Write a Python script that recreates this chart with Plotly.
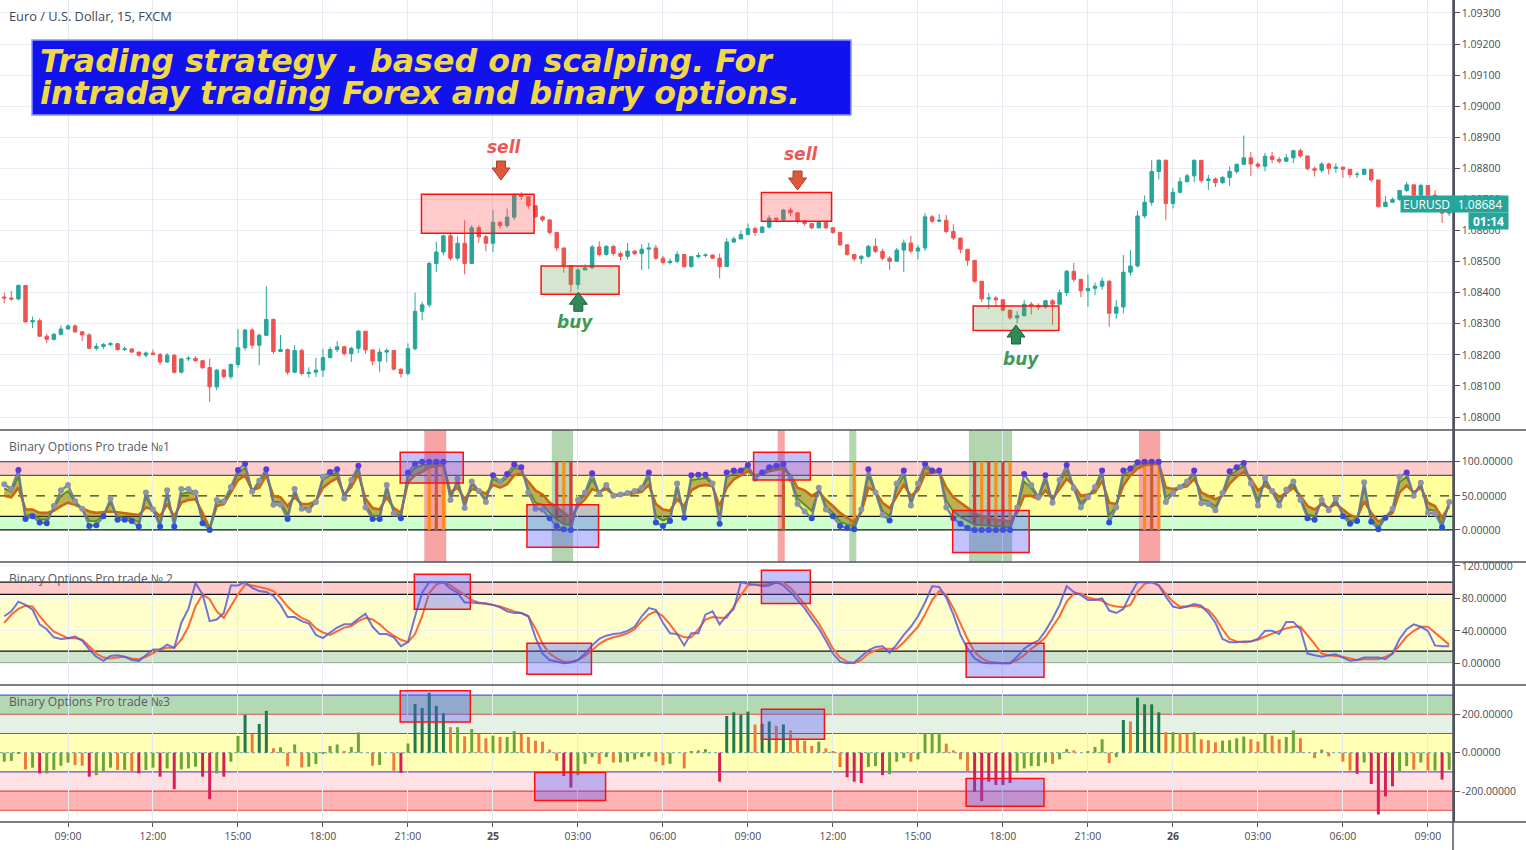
import plotly.graph_objects as go
from plotly.subplots import make_subplots

# ---------------- data (15-min bars, EURUSD) ----------------
first_open = 1.08386
close = [
    1.08383, 1.08380, 1.08423, 1.08306, 1.08310, 1.08260, 1.08250, 1.08266, 1.08283, 1.08293,
    1.08274, 1.08264, 1.08221, 1.08227, 1.08233, 1.08236, 1.08217, 1.08219, 1.08209, 1.08199,
    1.08206, 1.08201, 1.08177, 1.08199, 1.08144, 1.08187, 1.08189, 1.08181, 1.08159, 1.08097,
    1.08151, 1.08130, 1.08169, 1.08223, 1.08280, 1.08231, 1.08263, 1.08314, 1.08211, 1.08217,
    1.08144, 1.08214, 1.08140, 1.08144, 1.08151, 1.08191, 1.08217, 1.08226, 1.08204, 1.08221,
    1.08276, 1.08216, 1.08180, 1.08209, 1.08214, 1.08154, 1.08140, 1.08220, 1.08340, 1.08361,
    1.08494, 1.08531, 1.08583, 1.08511, 1.08559, 1.08494, 1.08609, 1.08580, 1.08559, 1.08627,
    1.08616, 1.08643, 1.08716, 1.08709, 1.08680, 1.08644, 1.08634, 1.08594, 1.08544, 1.08487,
    1.08426, 1.08473, 1.08480, 1.08547, 1.08523, 1.08549, 1.08526, 1.08517, 1.08534, 1.08526,
    1.08540, 1.08544, 1.08511, 1.08497, 1.08501, 1.08523, 1.08484, 1.08516, 1.08520, 1.08521,
    1.08511, 1.08484, 1.08563, 1.08573, 1.08587, 1.08606, 1.08594, 1.08611, 1.08640, 1.08634,
    1.08666, 1.08657, 1.08630, 1.08623, 1.08609, 1.08626, 1.08609, 1.08594, 1.08554, 1.08523,
    1.08509, 1.08517, 1.08549, 1.08533, 1.08511, 1.08501, 1.08537, 1.08560, 1.08534, 1.08544,
    1.08644, 1.08630, 1.08633, 1.08597, 1.08576, 1.08540, 1.08504, 1.08437, 1.08380, 1.08383,
    1.08377, 1.08344, 1.08319, 1.08326, 1.08363, 1.08359, 1.08354, 1.08374, 1.08363, 1.08400,
    1.08469, 1.08443, 1.08406, 1.08414, 1.08421, 1.08437, 1.08334, 1.08354, 1.08466, 1.08486,
    1.08647, 1.08691, 1.08790, 1.08826, 1.08687, 1.08723, 1.08757, 1.08776, 1.08826, 1.08761,
    1.08766, 1.08754, 1.08771, 1.08790, 1.08813, 1.08834, 1.08814, 1.08807, 1.08839, 1.08829,
    1.08823, 1.08834, 1.08857, 1.08840, 1.08799, 1.08794, 1.08814, 1.08800, 1.08804, 1.08797,
    1.08780, 1.08781, 1.08797, 1.08763, 1.08677, 1.08691, 1.08700, 1.08729, 1.08747, 1.08714,
    1.08745, 1.08714, 1.08666, 1.08656, 1.08684,
]
high = [
    1.08400, 1.08406, 1.08427, 1.08423, 1.08323, 1.08317, 1.08268, 1.08270, 1.08295, 1.08298,
    1.08298, 1.08276, 1.08270, 1.08237, 1.08238, 1.08242, 1.08239, 1.08227, 1.08221, 1.08210,
    1.08211, 1.08217, 1.08206, 1.08206, 1.08202, 1.08190, 1.08196, 1.08195, 1.08184, 1.08188,
    1.08155, 1.08154, 1.08172, 1.08283, 1.08284, 1.08286, 1.08269, 1.08421, 1.08317, 1.08264,
    1.08220, 1.08231, 1.08220, 1.08160, 1.08191, 1.08219, 1.08226, 1.08244, 1.08229, 1.08226,
    1.08281, 1.08276, 1.08216, 1.08221, 1.08221, 1.08216, 1.08156, 1.08237, 1.08400, 1.08370,
    1.08500, 1.08564, 1.08587, 1.08594, 1.08581, 1.08633, 1.08617, 1.08617, 1.08586, 1.08666,
    1.08626, 1.08671, 1.08720, 1.08723, 1.08711, 1.08681, 1.08649, 1.08637, 1.08596, 1.08544,
    1.08487, 1.08479, 1.08491, 1.08554, 1.08566, 1.08553, 1.08554, 1.08533, 1.08560, 1.08536,
    1.08556, 1.08561, 1.08554, 1.08519, 1.08509, 1.08534, 1.08523, 1.08519, 1.08530, 1.08527,
    1.08523, 1.08526, 1.08576, 1.08580, 1.08600, 1.08623, 1.08613, 1.08616, 1.08649, 1.08640,
    1.08669, 1.08674, 1.08659, 1.08634, 1.08623, 1.08627, 1.08626, 1.08609, 1.08594, 1.08556,
    1.08524, 1.08521, 1.08554, 1.08574, 1.08541, 1.08517, 1.08544, 1.08571, 1.08583, 1.08553,
    1.08656, 1.08650, 1.08653, 1.08650, 1.08620, 1.08576, 1.08540, 1.08504, 1.08437, 1.08399,
    1.08389, 1.08377, 1.08344, 1.08340, 1.08377, 1.08370, 1.08366, 1.08377, 1.08379, 1.08410,
    1.08474, 1.08496, 1.08443, 1.08459, 1.08433, 1.08449, 1.08440, 1.08376, 1.08521, 1.08537,
    1.08663, 1.08713, 1.08826, 1.08829, 1.08829, 1.08737, 1.08771, 1.08783, 1.08829, 1.08826,
    1.08779, 1.08771, 1.08776, 1.08806, 1.08816, 1.08906, 1.08853, 1.08820, 1.08850, 1.08853,
    1.08837, 1.08846, 1.08860, 1.08863, 1.08840, 1.08806, 1.08820, 1.08819, 1.08816, 1.08806,
    1.08797, 1.08790, 1.08799, 1.08797, 1.08763, 1.08711, 1.08706, 1.08731, 1.08757, 1.08747,
    1.08751, 1.08745, 1.08730, 1.08666, 1.08690,
]
low = [
    1.08366, 1.08374, 1.08375, 1.08304, 1.08286, 1.08258, 1.08238, 1.08246, 1.08262, 1.08283,
    1.08270, 1.08245, 1.08218, 1.08214, 1.08219, 1.08228, 1.08213, 1.08212, 1.08206, 1.08195,
    1.08191, 1.08198, 1.08168, 1.08174, 1.08140, 1.08140, 1.08180, 1.08178, 1.08154, 1.08049,
    1.08086, 1.08124, 1.08121, 1.08159, 1.08214, 1.08220, 1.08167, 1.08260, 1.08203, 1.08209,
    1.08136, 1.08141, 1.08134, 1.08127, 1.08129, 1.08129, 1.08189, 1.08209, 1.08198, 1.08177,
    1.08206, 1.08204, 1.08166, 1.08144, 1.08176, 1.08150, 1.08127, 1.08134, 1.08214, 1.08311,
    1.08353, 1.08466, 1.08520, 1.08504, 1.08504, 1.08459, 1.08492, 1.08561, 1.08533, 1.08531,
    1.08606, 1.08609, 1.08634, 1.08699, 1.08670, 1.08641, 1.08628, 1.08587, 1.08534, 1.08464,
    1.08401, 1.08411, 1.08473, 1.08477, 1.08516, 1.08519, 1.08519, 1.08504, 1.08507, 1.08521,
    1.08473, 1.08476, 1.08506, 1.08491, 1.08490, 1.08494, 1.08480, 1.08481, 1.08510, 1.08514,
    1.08509, 1.08446, 1.08483, 1.08560, 1.08576, 1.08585, 1.08583, 1.08591, 1.08606, 1.08627,
    1.08630, 1.08646, 1.08623, 1.08616, 1.08604, 1.08606, 1.08603, 1.08589, 1.08551, 1.08519,
    1.08501, 1.08493, 1.08511, 1.08527, 1.08504, 1.08473, 1.08501, 1.08466, 1.08526, 1.08507,
    1.08534, 1.08624, 1.08627, 1.08591, 1.08569, 1.08527, 1.08487, 1.08431, 1.08370, 1.08347,
    1.08356, 1.08340, 1.08313, 1.08300, 1.08324, 1.08330, 1.08344, 1.08349, 1.08297, 1.08361,
    1.08390, 1.08434, 1.08386, 1.08354, 1.08392, 1.08410, 1.08291, 1.08316, 1.08334, 1.08456,
    1.08481, 1.08639, 1.08680, 1.08764, 1.08633, 1.08671, 1.08719, 1.08757, 1.08756, 1.08754,
    1.08731, 1.08740, 1.08750, 1.08744, 1.08783, 1.08810, 1.08776, 1.08800, 1.08790, 1.08817,
    1.08816, 1.08820, 1.08817, 1.08834, 1.08794, 1.08774, 1.08786, 1.08780, 1.08786, 1.08770,
    1.08770, 1.08769, 1.08779, 1.08756, 1.08674, 1.08677, 1.08690, 1.08696, 1.08724, 1.08710,
    1.08711, 1.08707, 1.08660, 1.08624, 1.08647,
]
last_price = 1.08684

# indicator 1: fast line (dots), mid line, slow line
osc1_fast = [
    67, 60, 88, 16, 20, 11, 10, 35, 58, 66, 42, 31, 6, 7, 20, 46, 15, 15, 13, 5,
    55, 30, 5, 58, 5, 60, 60, 55, 10, 0, 44, 42, 63, 88, 97, 56, 72, 89, 37, 37,
    16, 60, 31, 29, 41, 78, 85, 89, 46, 73, 94, 33, 16, 16, 66, 24, 17, 84, 97, 100,
    100, 100, 100, 44, 75, 32, 71, 57, 41, 80, 71, 82, 96, 92, 55, 31, 30, 17, 6, 1,
    0, 44, 55, 83, 53, 66, 50, 52, 54, 57, 62, 84, 11, 6, 13, 68, 18, 80, 81, 81,
    68, 9, 84, 87, 87, 95, 75, 84, 92, 94, 97, 75, 38, 27, 17, 62, 30, 20, 6, 3,
    1, 30, 89, 55, 22, 14, 68, 87, 36, 68, 97, 87, 87, 33, 17, 9, 3, 0, 0, 0,
    0, 0, 0, 33, 82, 66, 48, 80, 40, 73, 95, 61, 33, 48, 63, 87, 11, 33, 87, 90,
    99, 100, 100, 100, 41, 54, 63, 71, 87, 39, 38, 29, 54, 86, 92, 98, 68, 36, 76, 57,
    36, 59, 71, 44, 17, 15, 44, 29, 46, 20, 9, 13, 70, 12, 1, 18, 31, 78, 84, 50,
    69, 25, 24, 4, 41,
]
osc1_mid = [
    61, 56, 79, 21, 23, 16, 15, 33, 50, 57, 40, 31, 13, 13, 22, 40, 19, 18, 17, 11,
    48, 30, 10, 51, 10, 53, 55, 52, 15, 1, 41, 41, 60, 83, 91, 57, 69, 86, 41, 41,
    22, 56, 33, 32, 41, 73, 80, 85, 48, 70, 90, 37, 21, 21, 60, 27, 20, 79, 91, 95,
    97, 98, 98, 48, 71, 36, 67, 57, 45, 75, 68, 77, 91, 89, 60, 40, 37, 25, 15, 9,
    6, 41, 52, 75, 54, 64, 51, 52, 53, 56, 60, 78, 20, 14, 18, 60, 24, 73, 75, 76,
    67, 18, 77, 83, 85, 92, 77, 83, 90, 92, 95, 77, 46, 37, 28, 60, 35, 25, 12, 8,
    5, 29, 80, 55, 28, 20, 61, 80, 41, 65, 92, 86, 86, 43, 27, 19, 13, 8, 7, 6,
    5, 5, 4, 30, 71, 61, 47, 73, 42, 69, 88, 62, 39, 49, 60, 82, 21, 35, 80, 87,
    96, 98, 99, 99, 48, 56, 63, 69, 83, 44, 42, 34, 53, 80, 87, 94, 70, 43, 72, 57,
    40, 57, 68, 46, 23, 20, 42, 30, 43, 23, 13, 15, 61, 16, 5, 18, 29, 70, 78, 52,
    67, 30, 28, 9, 39,
]
osc1_slow = [
    50, 48, 62, 30, 30, 25, 25, 28, 35, 40, 37, 32, 27, 25, 26, 27, 26, 25, 24, 22,
    33, 30, 20, 38, 20, 40, 44, 45, 25, 2, 35, 38, 55, 73, 80, 58, 62, 80, 50, 48,
    35, 48, 38, 38, 42, 62, 70, 76, 52, 63, 82, 46, 32, 30, 48, 32, 25, 70, 80, 85,
    92, 94, 95, 55, 62, 45, 60, 58, 53, 66, 62, 67, 80, 83, 70, 58, 52, 40, 33, 26,
    18, 35, 45, 60, 56, 60, 52, 51, 52, 54, 56, 66, 38, 30, 28, 45, 35, 58, 64, 66,
    64, 35, 62, 74, 80, 86, 80, 82, 86, 88, 90, 80, 62, 58, 50, 56, 44, 35, 25, 18,
    12, 26, 62, 56, 40, 32, 48, 66, 50, 58, 82, 84, 85, 62, 48, 40, 32, 25, 20, 17,
    15, 14, 12, 25, 50, 50, 45, 58, 46, 60, 75, 65, 50, 52, 55, 72, 40, 38, 65, 80,
    90, 95, 96, 97, 62, 60, 62, 64, 75, 55, 50, 45, 50, 68, 78, 85, 75, 58, 65, 58,
    48, 54, 62, 50, 35, 30, 38, 32, 38, 30, 22, 18, 42, 25, 12, 18, 25, 55, 65, 55,
    62, 40, 35, 18, 35,
]
# indicator 2: stochastic %K / %D
osc2_k = [
    58, 64, 76, 72, 66, 48, 42, 32, 30, 31, 33, 28, 17, 8, 3, 9, 10, 8, 4, 3,
    10, 17, 17, 23, 19, 50, 67, 99, 85, 52, 54, 62, 96, 96, 100, 93, 89, 88, 83, 72,
    57, 57, 52, 49, 35, 31, 38, 44, 48, 48, 55, 61, 45, 36, 36, 32, 21, 26, 58, 87,
    100, 100, 100, 92, 87, 75, 75, 74, 74, 72, 69, 64, 62, 62, 58, 32, 12, 4, 2, 0,
    1, 4, 12, 22, 30, 34, 36, 37, 40, 45, 58, 68, 66, 50, 37, 36, 22, 37, 37, 60,
    64, 48, 59, 67, 100, 98, 97, 95, 96, 100, 96, 88, 78, 68, 55, 43, 28, 12, 2, 0,
    1, 8, 16, 20, 21, 13, 23, 35, 45, 58, 75, 95, 94, 81, 60, 35, 18, 6, 1, 0,
    0, 0, 0, 8, 18, 24, 28, 40, 55, 72, 95, 88, 84, 78, 78, 80, 65, 62, 67, 85,
    100, 100, 100, 96, 82, 70, 68, 70, 73, 71, 62, 50, 30, 26, 26, 27, 27, 30, 40, 40,
    36, 51, 51, 42, 12, 10, 8, 10, 11, 7, 3, 4, 7, 7, 7, 5, 12, 30, 42, 48,
    45, 40, 22, 21, 21,
]
osc2_d = [
    50, 60, 67, 71, 70, 58, 48, 39, 35, 31, 31, 29, 21, 12, 7, 6, 7, 8, 6, 5,
    8, 12, 17, 19, 19, 29, 45, 70, 85, 79, 64, 56, 70, 85, 97, 96, 94, 92, 89, 81,
    70, 62, 56, 52, 43, 38, 35, 39, 44, 46, 52, 56, 54, 48, 40, 34, 29, 26, 36, 58,
    87, 97, 100, 96, 90, 84, 78, 75, 73, 72, 70, 67, 64, 62, 58, 43, 24, 12, 6, 2,
    2, 4, 9, 16, 24, 29, 32, 34, 37, 42, 52, 60, 64, 58, 48, 36, 32, 32, 42, 54,
    57, 56, 56, 70, 84, 96, 97, 97, 98, 99, 100, 93, 83, 73, 61, 49, 34, 18, 7, 2,
    0, 4, 12, 16, 18, 18, 18, 26, 36, 45, 60, 78, 89, 84, 68, 48, 30, 14, 6, 2,
    1, 0, 0, 4, 10, 18, 24, 32, 45, 58, 76, 86, 86, 81, 79, 77, 72, 70, 69, 72,
    88, 98, 100, 96, 86, 76, 70, 70, 71, 69, 66, 56, 42, 30, 27, 26, 27, 29, 33, 37,
    40, 43, 45, 45, 35, 24, 12, 10, 9, 8, 6, 4, 5, 5, 5, 8, 12, 22, 33, 40,
    45, 45, 38, 30, 23,
]
# indicator 3: histogram
osc3_hist = [
    -47, -43, -5, -87, -78, -108, -108, -90, -68, -52, -64, -68, -125, -117, -99, -78, -90, -90, -99, -108,
    -90, -78, -125, -82, -190, -87, -82, -73, -125, -242, -108, -125, -47, 87, 197, 97, 150, 218, 23, 28,
    -70, 43, -77, -73, -59, -3, 35, 43, 9, 30, 106, 0, -68, -64, 0, -94, -105, 48, 254, 232,
    312, 244, 205, 133, 133, 85, 123, 98, 75, 89, 82, 82, 112, 98, 82, 63, 58, 16, -42, -121,
    -182, -117, -58, -23, -58, -23, -51, -51, -47, -35, -23, -19, -47, -65, -58, 0, -82, 5, 12, 19,
    0, -151, 191, 210, 198, 214, 147, 151, 163, 140, 147, 116, 70, 63, 35, 58, 23, 5, -75, -128,
    -151, -158, -75, -70, -117, -112, -47, -28, -47, -35, 100, 100, 100, 47, 12, -35, -98, -203, -252, -151,
    -168, -168, -158, -105, -82, -70, -70, -51, -58, -35, 19, 12, 0, 6, 30, 70, -54, -23, 170, 163,
    287, 252, 252, 210, 107, 107, 103, 98, 107, 70, 65, 54, 63, 65, 75, 84, 70, 58, 98, 89,
    70, 82, 116, 75, 0, -28, 16, -19, 0, -47, -93, -110, -51, -163, -322, -228, -175, -98, -70, -89,
    -51, -93, -93, -140, -89,
]
sell_signal_bars = [60, 61, 62, 110, 161, 162, 163]
buy_signal_bars = [78, 79, 80, 120, 137, 138, 139, 140, 141, 142]
signal_level = 100

time_tick_bars = [9, 21, 33, 45, 57, 69, 81, 93, 105, 117, 129, 141, 153, 165, 177, 189, 201]
time_tick_labels = ["09:00", "12:00", "15:00", "18:00", "21:00", "<b>25</b>", "03:00", "06:00",
                    "09:00", "12:00", "15:00", "18:00", "21:00", "<b>26</b>", "03:00", "06:00", "09:00"]
price_ticks = [1.080, 1.081, 1.082, 1.083, 1.084, 1.085, 1.086, 1.087, 1.088, 1.089,
               1.090, 1.091, 1.092, 1.093]
osc1_ticks = [0, 50, 100]
osc2_ticks = [0, 40, 80, 120]
osc3_ticks = [-200, 0, 200]

# ---------------- geometry helpers ----------------
PW, PH = 1453.0, 822.0
def px(x):
    return x / PW
def py(y):
    return 1 - y / PH

X_RANGE = [-0.6, 204.54]
PX_PER_BAR = PW / (X_RANGE[1] - X_RANGE[0])
PRICE_PER_PX = 0.013 / 404.0

UP, DN = "#26a69a", "#ef5350"
AXC = "#50535e"
TXT = "#4b4b52"
TICKFONT = dict(family="Open Sans, DejaVu Sans", size=10.5, color=TXT)

bars = list(range(len(close)))
opens = [first_open] + close[:-1]

fig = make_subplots(rows=4, cols=1, shared_xaxes=True, vertical_spacing=0)

# ---- price candles ----
fig.add_trace(go.Candlestick(
    x=bars, open=opens, high=high, low=low, close=close,
    increasing=dict(line=dict(color=UP, width=1), fillcolor=UP),
    decreasing=dict(line=dict(color=DN, width=1), fillcolor=DN),
    whiskerwidth=0, hoverinfo="skip", showlegend=False), row=1, col=1)

# ---- indicator 1 ----
fig.add_trace(go.Bar(
    x=sell_signal_bars, y=[signal_level] * len(sell_signal_bars), width=0.45,
    marker=dict(color=["#ff8c1a" if k % 2 == 0 else "#c9602c" for k in range(len(sell_signal_bars))],
                line=dict(width=0)),
    showlegend=False, hoverinfo="skip"), row=2, col=1)
fig.add_trace(go.Bar(
    x=buy_signal_bars, y=[signal_level] * len(buy_signal_bars), width=0.45,
    marker=dict(color=["#ec3434" if k % 2 == 0 else "#ff8c1a" for k in range(len(buy_signal_bars))],
                line=dict(width=0)),
    showlegend=False, hoverinfo="skip"), row=2, col=1)
fig.add_trace(go.Scatter(
    x=bars, y=osc1_slow, mode="lines", line=dict(color="rgb(204,104,18)", width=2.6),
    showlegend=False, hoverinfo="skip"), row=2, col=1)
fig.add_trace(go.Scatter(
    x=bars, y=osc1_mid, mode="lines", line=dict(color="rgb(96,136,36)", width=1.8),
    fill="tonexty", fillcolor="rgba(110,95,0,0.48)", showlegend=False, hoverinfo="skip"), row=2, col=1)

def dot_color(v):
    if v >= 80:
        return "#5a3ad6"
    if v <= 20:
        return "#2d4fd8"
    return "#8e93ab"

fig.add_trace(go.Scatter(
    x=bars, y=osc1_fast, mode="lines+markers",
    line=dict(color="rgba(104,118,165,0.9)", width=2.2),
    marker=dict(size=6, color=[dot_color(v) for v in osc1_fast], line=dict(width=0)),
    fill="tonexty", fillcolor="rgba(170,250,50,0.6)", showlegend=False, hoverinfo="skip"), row=2, col=1)

# ---- indicator 2 ----
fig.add_trace(go.Scatter(
    x=bars, y=osc2_d, mode="lines", line=dict(color="rgb(255,104,52)", width=2),
    showlegend=False, hoverinfo="skip"), row=3, col=1)
fig.add_trace(go.Scatter(
    x=bars, y=osc2_k, mode="lines", line=dict(color="rgba(92,92,214,0.85)", width=2),
    showlegend=False, hoverinfo="skip"), row=3, col=1)

# ---- indicator 3 ----
def hist_color(v, prev):
    if v > 180:
        return "#1e7a4c"
    if v < -150:
        return "#d61f56"
    if v >= prev:
        return "#1e7a4c" if v > 140 else "#6ea53a"
    return "#d61f56" if v < -100 else "#ee7a3c"

hcols = [hist_color(v, osc3_hist[i - 1] if i > 0 else v) for i, v in enumerate(osc3_hist)]
fig.add_trace(go.Bar(
    x=bars, y=osc3_hist, width=0.42, marker=dict(color=hcols, line=dict(width=0)),
    showlegend=False, hoverinfo="skip"), row=4, col=1)

# ---------------- shapes ----------------
shapes = []
def rect(xref, yref, x0, x1, y0, y1, fill, layer="below", line=None, lw=0):
    shapes.append(dict(type="rect", xref=xref, yref=yref, x0=x0, x1=x1, y0=y0, y1=y1,
                       fillcolor=fill, layer=layer,
                       line=dict(width=lw, color=line if line else "rgba(0,0,0,0)")))
def hline(yref, y, color, width=1.0, dash="solid"):
    shapes.append(dict(type="line", xref="paper", yref=yref, x0=0, x1=1, y0=y, y1=y,
                       layer="below", line=dict(color=color, width=width, dash=dash)))

# panel 1 bands
rect("paper", "y2", 0, 1, 80, 100, "#ffcccc")
rect("paper", "y2", 0, 1, 20, 80, "#ffff9c")
rect("paper", "y2", 0, 1, 0, 20, "#ccffcc")
for x0, x1, c in [(59.3, 62.4, "#f8a4a4"), (77.3, 80.3, "#b3d6b0"), (109.2, 110.2, "#f8a4a4"),
                  (119.3, 120.3, "#b3d6b0"), (136.2, 142.3, "#b3d6b0"), (160.2, 163.2, "#f8a4a4")]:
    rect("x2", "y2 domain", x0, x1, 0, 1, c)
hline("y2", 100, "#4a5a78", 1.2)
hline("y2", 80, "#4a5a78", 1.2)
hline("y2", 50, "#3a3a20", 1.2, "dash")
hline("y2", 20, "#111111", 1.2)
hline("y2", 0, "#111111", 1.2)

# panel 2 bands
rect("paper", "y3", 0, 1, 85, 100, "#ffcccc")
rect("paper", "y3", 0, 1, 15, 85, "#ffffcc")
rect("paper", "y3", 0, 1, 0, 15, "#cce5cc")
for v in (100, 85, 15, 0):
    hline("y3", v, "#111111", 1.2)

# panel 3 bands
rect("paper", "y4", 0, 1, 200, 300, "#b3d9b3")
rect("paper", "y4", 0, 1, 100, 200, "#e6f1e6")
rect("paper", "y4", 0, 1, -100, 100, "#ffffb6")
rect("paper", "y4", 0, 1, -200, -100, "#ffe1e4")
rect("paper", "y4", 0, 1, -300, -200, "#ffb2b2")
hline("y4", 300, "#5a5ad8", 1.1)
hline("y4", 200, "#c8584a", 1.1)
hline("y4", 100, "#5a5ad8", 1.1)
hline("y4", 0, "#86b4b4", 1.2, "dot")
hline("y4", -100, "#5a5ad8", 1.1)
hline("y4", -200, "#e84646", 1.1)
hline("y4", -300, "#e84646", 1.1)

# price zones
SELLF, BUYF, BOXF = "rgba(255,80,80,0.3)", "rgba(100,160,80,0.27)", "rgba(80,80,255,0.35)"
rect("x", "y", 58.9, 74.8, 1.085911, 1.087166, SELLF, "above", "#ff1010", 1.5)
rect("x", "y", 75.8, 86.8, 1.083948, 1.084859, BUYF, "above", "#ff1010", 1.5)
rect("x", "y", 106.9, 116.8, 1.086300, 1.087227, SELLF, "above", "#ff1010", 1.5)
rect("x", "y", 136.8, 148.9, 1.082787, 1.083569, BUYF, "above", "#ff1010", 1.5)
# indicator zones
for x0, x1, y0, y1 in [(55.9, 64.8, 68.8, 114), (73.8, 83.9, -25.3, 36.9),
                       (105.8, 113.8, 73, 114), (133.9, 144.7, -33, 28.5)]:
    rect("x2", "y2", x0, x1, y0, y1, BOXF, "above", "#ff1010", 1.5)
for x0, x1, y0, y1 in [(57.9, 65.8, 66.6, 109.7), (73.8, 82.9, -13.4, 24.7),
                       (106.9, 113.8, 73.7, 114.7), (135.8, 146.8, -17.3, 24.7)]:
    rect("x3", "y3", x0, x1, y0, y1, BOXF, "above", "#ff1010", 1.5)
for x0, x1, y0, y1 in [(55.9, 65.8, 160, 322), (74.9, 84.9, -249, -103),
                       (106.9, 115.8, 70, 226), (135.8, 146.8, -279, -134)]:
    rect("x4", "y4", x0, x1, y0, y1, BOXF, "above", "#ff1010", 1.5)

# block arrows
def arrow_path(xc, ytip, down, head_w=18, shaft_w=9, head_h=12, shaft_h=7):
    hw = head_w / 2 / PX_PER_BAR
    sw = shaft_w / 2 / PX_PER_BAR
    hh = head_h * PRICE_PER_PX
    sh = shaft_h * PRICE_PER_PX
    s = 1 if down else -1
    pts = [(xc, ytip), (xc - hw, ytip + s * hh), (xc - sw, ytip + s * hh),
           (xc - sw, ytip + s * (hh + sh)), (xc + sw, ytip + s * (hh + sh)),
           (xc + sw, ytip + s * hh), (xc + hw, ytip + s * hh)]
    return "M " + " L ".join(f"{x:.4f},{y:.6f}" for x, y in pts) + " Z"

for xc, yt in [(70.13, 1.087626), (112.0, 1.087304)]:
    shapes.append(dict(type="path", xref="x", yref="y", path=arrow_path(xc, yt, True),
                       fillcolor="#e0583a", line=dict(color="#a8402a", width=1), layer="above"))
for xc, yt in [(81.05, 1.084013), (142.84, 1.082960)]:
    shapes.append(dict(type="path", xref="x", yref="y", path=arrow_path(xc, yt, False),
                       fillcolor="#2f8a55", line=dict(color="#1f5e3a", width=1), layer="above"))

# title box
shapes.append(dict(type="rect", xref="paper", yref="paper", x0=px(32), x1=px(851), y0=py(115), y1=py(40),
                   fillcolor="#1212ee", line=dict(color="#8a96ff", width=1.5), layer="above"))
# panel separators and right axis line
for yy in (430, 562, 685, 822):
    shapes.append(dict(type="line", xref="paper", yref="paper", x0=0, x1=1526 / PW, y0=py(yy), y1=py(yy),
                       line=dict(color=AXC, width=1.5), layer="above"))
shapes.append(dict(type="line", xref="paper", yref="paper", x0=1, x1=1, y0=py(850), y1=1,
                   line=dict(color=AXC, width=1.5), layer="above"))

# ---------------- annotations ----------------
ann = []
ann.append(dict(text="Euro / U.S. Dollar, 15, FXCM", xref="paper", yref="paper", x=px(7), y=py(16),
                xanchor="left", yanchor="middle", showarrow=False,
                font=dict(family="Open Sans, DejaVu Sans", size=12.8, color="#434651")))
TFONT = dict(family="DejaVu Sans", size=31.7, color="#efd94a")
ann.append(dict(text="<b><i>Trading strategy . based on scalping. For</i></b>", xref="paper", yref="paper",
                x=px(38), y=py(61), xanchor="left", yanchor="middle", showarrow=False, font=TFONT))
ann.append(dict(text="<b><i>intraday trading Forex and binary options.</i></b>", xref="paper", yref="paper",
                x=px(38), y=py(93), xanchor="left", yanchor="middle", showarrow=False, font=TFONT))
PFONT = dict(family="Open Sans, DejaVu Sans", size=12, color="#555a66")
for txt, yy in [("Binary Options Pro trade №1", 447), ("Binary Options Pro trade № 2", 578),
                ("Binary Options Pro trade №3", 701)]:
    ann.append(dict(text=txt, xref="paper", yref="paper", x=px(7), y=py(yy), xanchor="left",
                    yanchor="middle", showarrow=False, font=PFONT))
SFONT = dict(family="DejaVu Sans", size=17, color="#f05656")
BFONT = dict(family="DejaVu Sans", size=17, color="#3f9a55")
for x, y in [(70.56, 1.088688), (112.49, 1.088463)]:
    ann.append(dict(text="<b><i>sell</i></b>", xref="x", yref="y", x=x, y=y, showarrow=False, font=SFONT))
for x, y in [(80.58, 1.083057), (143.55, 1.081866)]:
    ann.append(dict(text="<b><i>buy</i></b>", xref="x", yref="y", x=x, y=y, showarrow=False, font=BFONT))

LFONT = dict(family="Open Sans, DejaVu Sans", size=12, color="white")
ann.append(dict(text="EURUSD", xref="paper", yref="y", x=px(1426.5), y=last_price, xanchor="center",
                yanchor="middle", showarrow=False, bgcolor=UP, width=51, height=16, borderpad=0, font=LFONT))
ann.append(dict(text=f"{last_price:.5f}", xref="paper", yref="y", x=px(1480.5), y=last_price,
                xanchor="center", yanchor="middle", showarrow=False, bgcolor=UP, width=56, height=16,
                borderpad=0, font=LFONT))
ann.append(dict(text="<b>01:14</b>", xref="paper", yref="paper", x=px(1488.8), y=py(221.3), xanchor="center",
                yanchor="middle", showarrow=False, bgcolor=UP, width=39, height=16, borderpad=0, font=LFONT))

# ---------------- layout ----------------
xcommon = dict(range=X_RANGE, tickmode="array", tickvals=time_tick_bars, ticktext=time_tick_labels,
               showgrid=True, gridcolor="#e4ecf2", gridwidth=1, zeroline=False, showline=False,
               fixedrange=True)
def ycommon(rng, ticks, fmt_digits, grid):
    return dict(side="right", range=rng, tickmode="array", tickvals=ticks,
                ticktext=[f"{t:.{fmt_digits}f}" for t in ticks], ticks="outside", ticklen=5,
                tickcolor=AXC, showline=True, linecolor=AXC, linewidth=1.5, zeroline=False,
                showgrid=grid, gridcolor="#e8eef3", tickfont=TICKFONT, fixedrange=True)

fig.update_layout(
    template="none",
    width=1526, height=850,
    margin=dict(l=0, r=73, t=0, b=28, autoexpand=False),
    paper_bgcolor="white", plot_bgcolor="white",
    showlegend=False, hovermode=False, barmode="overlay",
    shapes=shapes, annotations=ann,
    xaxis=dict(**xcommon, showticklabels=False, rangeslider=dict(visible=False)),
    xaxis2=dict(**xcommon, showticklabels=False),
    xaxis3=dict(**xcommon, showticklabels=False),
    xaxis4=dict(**xcommon, showticklabels=True, ticks="outside", ticklen=4, tickcolor=AXC,
                tickfont=TICKFONT),
    yaxis=dict(**ycommon([1.079582, 1.093418], price_ticks, 5, True), domain=[1 - 430 / PH, 1]),
    yaxis2=dict(**ycommon([-46.9, 146.4], osc1_ticks, 5, False), domain=[1 - 562 / PH, 1 - 430 / PH]),
    yaxis3=dict(**ycommon([-26.8, 124.9], osc2_ticks, 5, True), domain=[1 - 685 / PH, 1 - 562 / PH]),
    yaxis4=dict(**ycommon([-361, 352.6], osc3_ticks, 5, False), domain=[0, 1 - 685 / PH]),
)
fig.update_yaxes(gridcolor="#eef2f5", row=3, col=1)

page_fix = ("document.body.style.margin='0px';document.body.style.padding='0px';"
            "document.documentElement.style.overflow='hidden';document.body.style.overflow='hidden';")
fig.write_html("out.html", post_script=page_fix, config={"displayModeBar": False})
